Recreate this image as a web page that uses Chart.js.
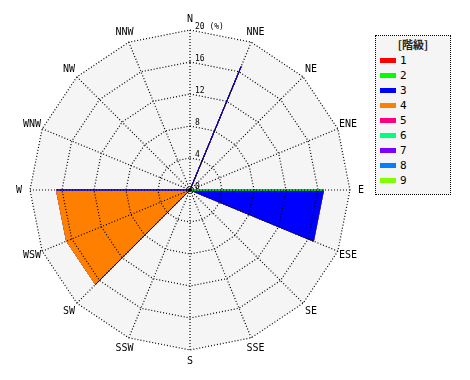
<!DOCTYPE html>
<html>
<head>
<meta charset="utf-8">
<script src="https://cdn.jsdelivr.net/npm/chart.js@4.4.1/dist/chart.umd.min.js"></script>
<style>
  body { margin: 0; background: #fff; }
  #wrap { position: relative; width: 470px; height: 380px; }
  #legend {
    position: absolute; left: 375px; top: 35px; width: 76px; height: 160px;
    box-sizing: border-box; border: 1px dotted #000; background: #f5f5f5;
    font: 11px 'DejaVu Sans Mono', monospace; color: #000;
  }
  #legend .title { text-align: center; height: 17px; line-height: 17px; font: bold 11px 'Noto Sans CJK JP'; color: #222; }
  #legend .row { position: relative; height: 15px; }
  #legend .sw { position: absolute; left: 4px; top: 5px; width: 16px; height: 5px; }
  #legend .txt { position: absolute; left: 24px; top: 0; line-height: 15px; }
</style>
</head>
<body>
<div id="wrap">
  <canvas id="rose"></canvas>
  <div id="legend"><div class="title">[階級]</div></div>
</div>
<script>
const directions = ['N', 'NNE', 'NE', 'ENE', 'E', 'ESE', 'SE', 'SSE',
                    'S', 'SSW', 'SW', 'WSW', 'W', 'WNW', 'NW', 'NNW'];
const classLabels = ['1', '2', '3', '4', '5', '6', '7', '8', '9'];
const classColors = ['#ff0000', '#00ff00', '#0000ff', '#ff8000', '#ff0080',
                     '#00ff80', '#8000ff', '#0080ff', '#80ff00'];

// frequency (%) per direction for each class, N .. NNW
const class1 = [0, 0, 0, 0, 0, 0, 0, 0, 0, 0, 0, 0, 0, 0, 0, 0];
const class2 = [0, 0, 0, 0, 16.7, 0, 0, 0, 0, 0, 0, 0, 0, 0, 0, 0];
const class3 = [0, 16.7, 0, 0, 0, 16.7, 0, 0, 0, 0, 16.7, 0, 16.7, 0, 0, 0];
const class4 = [0, 0, 0, 0, 0, 0, 0, 0, 0, 0, 0, 16.7, 0, 0, 0, 0];
const class5 = [0, 0, 0, 0, 0, 0, 0, 0, 0, 0, 0, 0, 0, 0, 0, 0];
const class6 = [0, 0, 0, 0, 0, 0, 0, 0, 0, 0, 0, 0, 0, 0, 0, 0];
const class7 = [0, 0, 0, 0, 0, 0, 0, 0, 0, 0, 0, 0, 0, 0, 0, 0];
const class8 = [0, 0, 0, 0, 0, 0, 0, 0, 0, 0, 0, 0, 0, 0, 0, 0];
const class9 = [0, 0, 0, 0, 0, 0, 0, 0, 0, 0, 0, 0, 0, 0, 0, 0];

const scaleMax = 20;
const scaleStep = 4;
const unitLabel = '(%)';

// stacked rose: each class is drawn as the running total up to that class
const classes = [class1, class2, class3, class4, class5, class6, class7, class8, class9];
let running = directions.map(() => 0);
const datasets = classes.map((vals, k) => {
  running = running.map((v, i) => v + vals[i]);
  return {
    label: classLabels[k],
    data: running.slice(),
    borderColor: classColors[k],
    backgroundColor: classColors[k],
    borderWidth: 1,
    fill: 'origin',
    pointRadius: 0
  };
});

// legend
const legend = document.getElementById('legend');
classLabels.forEach((lab, k) => {
  const row = document.createElement('div');
  row.className = 'row';
  row.innerHTML = '<span class="sw" style="background:' + classColors[k] + '"></span><span class="txt">' + lab + '</span>';
  legend.appendChild(row);
});

const roseDecor = {
  id: 'roseDecor',
  beforeDatasetsDraw(chart) {
    const r = chart.scales.r;
    const ctx = chart.ctx;
    ctx.save();
    ctx.beginPath();
    directions.forEach((d, i) => {
      const p = r.getPointPosition(i, r.drawingArea);
      if (i === 0) ctx.moveTo(p.x, p.y); else ctx.lineTo(p.x, p.y);
    });
    ctx.closePath();
    ctx.fillStyle = '#f5f5f5';
    ctx.fill();
    ctx.restore();
  },
  afterDraw(chart) {
    const r = chart.scales.r;
    const ctx = chart.ctx;
    ctx.save();
    // direction names
    ctx.fillStyle = '#000';
    ctx.font = '10px "DejaVu Sans Mono"';
    ctx.textAlign = 'center';
    ctx.textBaseline = 'middle';
    directions.forEach((d, i) => {
      const p = r.getPointPosition(i, r.drawingArea + 11);
      ctx.fillText(d, p.x, p.y);
    });
    // value ticks along the north axis
    ctx.font = '8px "DejaVu Sans Mono"';
    ctx.textAlign = 'left';
    ctx.textBaseline = 'bottom';
    r.ticks.forEach(t => {
      const dist = r.getDistanceFromCenterForValue(t.value);
      const txt = t.value === scaleMax ? t.value + ' ' + unitLabel : String(t.value);
      ctx.fillText(txt, r.xCenter + 5, r.yCenter - dist + 1);
    });
    ctx.beginPath();
    ctx.arc(r.xCenter, r.yCenter, 2, 0, Math.PI * 2);
    ctx.fill();
    ctx.restore();
  }
};

new Chart(document.getElementById('rose'), {
  type: 'radar',
  data: { labels: directions, datasets: datasets },
  options: {
    responsive: true,
    maintainAspectRatio: false,
    animation: false,
    layout: { padding: { left: 30, right: 120, top: 30, bottom: 30 } },
    elements: { line: { tension: 0 } },
    plugins: { legend: { display: false }, tooltip: { enabled: false } },
    scales: {
      r: {
        min: 0,
        max: scaleMax,
        ticks: { stepSize: scaleStep, display: false },
        pointLabels: { display: false },
        grid: { color: '#000', lineWidth: 1.2, z: 1 },
        border: { dash: [1, 2] },
        angleLines: { color: '#000', lineWidth: 1.2, borderDash: [1, 2] }
      }
    }
  },
  plugins: [roseDecor]
});
</script>
</body>
</html>
